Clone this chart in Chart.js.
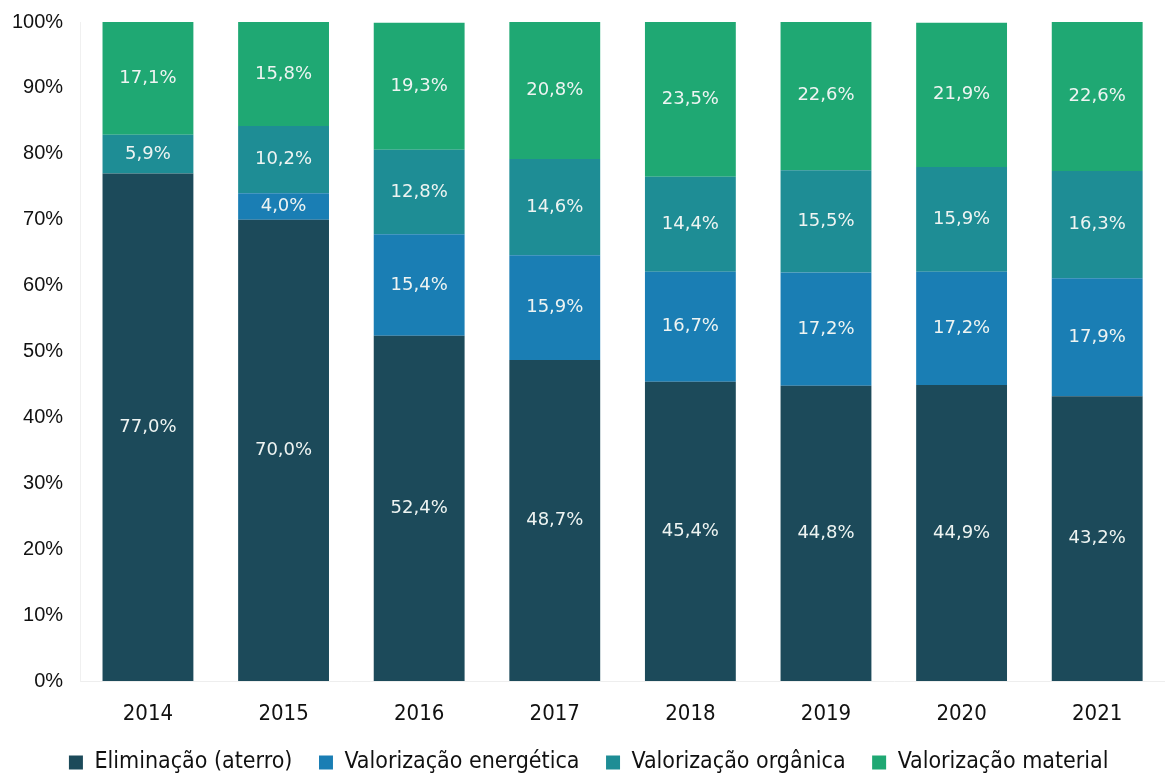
<!DOCTYPE html>
<html>
<head>
<meta charset="utf-8">
<script src="https://cdn.jsdelivr.net/npm/chart.js@4/dist/chart.umd.min.js"></script>
<style>
  html, body { margin: 0; padding: 0; background: #fff; }
  #wrap { width: 1165px; height: 778px; }
</style>
</head>
<body>
<div id="wrap"><canvas id="myChart" width="1165" height="778"></canvas></div>
<script>
const years = ['2014', '2015', '2016', '2017', '2018', '2019', '2020', '2021'];

const eliminacao = [77.0, 70.0, 52.4, 48.7, 45.4, 44.8, 44.9, 43.2];
const energetica = [0, 4.0, 15.4, 15.9, 16.7, 17.2, 17.2, 17.9];
const organica   = [5.9, 10.2, 12.8, 14.6, 14.4, 15.5, 15.9, 16.3];
const material   = [17.1, 15.8, 19.3, 20.8, 23.5, 22.6, 21.9, 22.6];

const yTicks = [0, 10, 20, 30, 40, 50, 60, 70, 80, 90, 100];

// draws the value inside each bar segment
const barLabels = {
  id: 'barLabels',
  afterDatasetsDraw(chart) {
    const ctx = chart.ctx;
    ctx.save();
    ctx.font = '18px "DejaVu Sans", sans-serif';
    ctx.fillStyle = '#eef4f2';
    ctx.textAlign = 'center';
    ctx.textBaseline = 'middle';
    chart.data.datasets.forEach((ds, i) => {
      chart.getDatasetMeta(i).data.forEach((bar, j) => {
        const v = ds.data[j];
        if (!v) return;
        const y = (bar.y + bar.base) / 2;
        ctx.fillText(v.toFixed(1).replace('.', ',') + '%', bar.x, y);
      });
    });
    ctx.restore();
  }
};

// keep the legend wide apart but short in height, nudged a bit right
const legendTweak = {
  id: 'legendTweak',
  beforeLayout(chart) {
    const lg = chart.legend;
    if (!lg || lg._patched) return;
    const fit = lg.fit;
    const draw = lg.draw;
    lg.fit = function () {
      fit.call(this);
      this.height = 47;
    };
    lg.draw = function () {
      this.ctx.save();
      this.ctx.translate(12, 0);
      draw.call(this);
      this.ctx.restore();
    };
    lg._patched = true;
  }
};

const data = {
  labels: years,
  datasets: [
    { label: 'Eliminação (aterro)', data: eliminacao, backgroundColor: '#1c4a5a' },
    { label: 'Valorização energética', data: energetica, backgroundColor: '#1a7eb4' },
    { label: 'Valorização orgânica', data: organica, backgroundColor: '#1e8d95' },
    { label: 'Valorização material', data: material, backgroundColor: '#1fa873' }
  ]
};

const config = {
  type: 'bar',
  data: data,
  plugins: [barLabels, legendTweak],
  options: {
    responsive: false,
    animation: false,
    layout: { padding: { top: 22, right: 0, left: -5, bottom: 0 } },
    datasets: { bar: { barPercentage: 0.67, categoryPercentage: 1 } },
    plugins: {
      tooltip: { enabled: false },
      legend: {
        position: 'bottom',
        labels: {
          boxWidth: 14,
          boxHeight: 14,
          padding: 20,
          color: '#111',
          font: { family: '"DejaVu Sans Condensed", "DejaVu Sans", sans-serif', size: 23 },
          generateLabels: chart => Chart.defaults.plugins.legend.labels.generateLabels(chart)
            .map(l => Object.assign(l, { text: l.text + ' ' }))
        }
      }
    },
    scales: {
      x: {
        stacked: true,
        afterFit: axis => { axis.height = 50; },
        grid: { display: false, drawTicks: false },
        border: { color: '#eeeeee' },
        ticks: {
          color: '#111',
          padding: 20,
          font: { family: '"DejaVu Sans Condensed", "DejaVu Sans", sans-serif', size: 22 }
        }
      },
      y: {
        stacked: true,
        min: 0,
        max: 100,
        afterBuildTicks: axis => { axis.ticks = yTicks.map(v => ({ value: v })); },
        afterFit: axis => { axis.paddingTop = 0; axis.paddingBottom = 0; },
        grid: { display: false, drawTicks: false },
        border: { color: '#f0f0f0' },
        ticks: {
          color: '#111',
          padding: 17,
          font: { family: '"Liberation Sans", Arial, sans-serif', size: 20 },
          callback: v => v + '%'
        }
      }
    }
  }
};

const myChart = new Chart(document.getElementById('myChart'), config);
</script>
</body>
</html>
